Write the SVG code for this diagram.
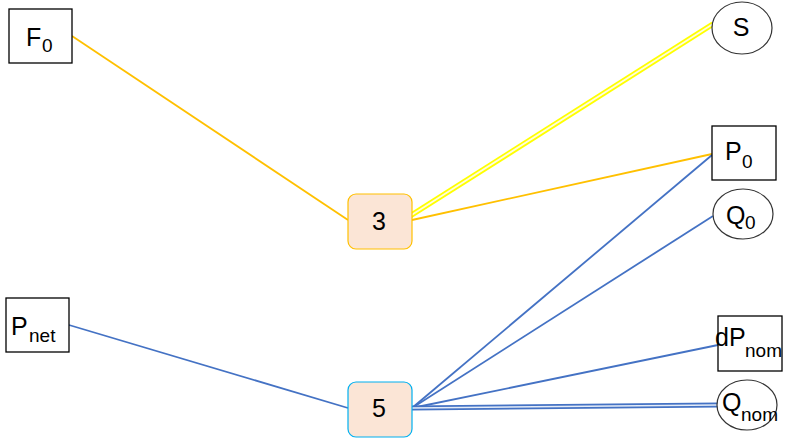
<svg xmlns="http://www.w3.org/2000/svg" width="795" height="440" viewBox="0 0 795 440">
<style>
.box{fill:#fff;stroke:#000;stroke-width:1.3}
.ell{fill:#fff;stroke:#333;stroke-width:1.2}
.t{font-family:"Liberation Sans",Arial,sans-serif;font-size:25px;fill:#000}
.s{font-size:19px}
.y{stroke:#FFC000;stroke-width:1.8;fill:none}
.b{stroke:#4472C4;stroke-width:1.8;fill:none}
</style>
<rect width="795" height="440" fill="#fff"/>
<g id="connectors">
<line class="y" x1="72" y1="36" x2="348" y2="220"/>
<line class="y" x1="412" y1="220" x2="712" y2="154"/>
<line x1="410" y1="216" x2="713" y2="24" stroke="#FFFF00" stroke-width="5.5"/>
<line x1="410" y1="216" x2="713" y2="24" stroke="#FFFCE0" stroke-width="1.8"/>
<line class="b" x1="69" y1="325" x2="348" y2="408"/>
<line class="b" x1="412" y1="408" x2="712" y2="155"/>
<line class="b" x1="412" y1="408" x2="713" y2="216"/>
<line class="b" x1="412" y1="408" x2="718" y2="345"/>
<line x1="412" y1="408" x2="718" y2="405" stroke="#4472C4" stroke-width="5"/>
<line x1="412" y1="408" x2="718" y2="405" stroke="#E4ECF8" stroke-width="1.6"/>
</g>
<g id="F0"><rect class="box" x="9" y="9" width="63" height="54"/><text class="t"><tspan x="26" y="46">F</tspan><tspan class="s" x="42" y="52">0</tspan></text></g>
<g id="Pnet"><rect class="box" x="6" y="298" width="63" height="54"/><text class="t"><tspan x="11" y="335">P</tspan><tspan class="s" x="29" y="342">net</tspan></text></g>
<g id="n3"><rect x="348" y="194" width="64" height="55" rx="8" fill="#FBE5D6" stroke="#FFC000" stroke-width="1.2"/><text class="t" x="379" y="230" text-anchor="middle">3</text></g>
<g id="n5"><rect x="348" y="382" width="64" height="55" rx="8" fill="#FBE5D6" stroke="#00B0F0" stroke-width="1.2"/><text class="t" x="379" y="417" text-anchor="middle">5</text></g>
<g id="S"><ellipse class="ell" cx="742" cy="28" rx="30" ry="26"/><text class="t" x="741" y="36" text-anchor="middle">S</text></g>
<g id="P0"><rect class="box" x="712" y="126" width="64" height="54"/><text class="t"><tspan x="725" y="160">P</tspan><tspan class="s" x="742" y="168">0</tspan></text></g>
<g id="Q0"><ellipse class="ell" cx="743" cy="214" rx="30" ry="25"/><text class="t"><tspan x="726" y="224">Q</tspan><tspan class="s" x="745" y="229">0</tspan></text></g>
<g id="dPnom"><rect class="box" x="718" y="316" width="64" height="55"/><text class="t"><tspan x="715" y="346">dP</tspan><tspan class="s" x="745" y="357">nom</tspan></text></g>
<g id="Qnom"><ellipse class="ell" cx="747" cy="405" rx="30" ry="25"/><text class="t"><tspan x="722" y="411">Q</tspan><tspan class="s" x="741" y="421">nom</tspan></text></g>
</svg>
